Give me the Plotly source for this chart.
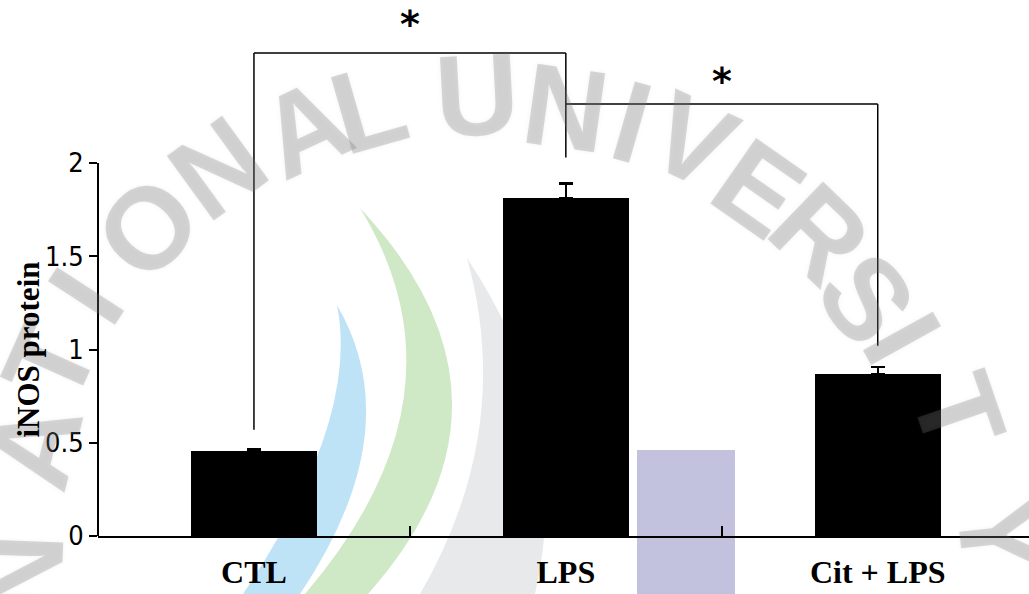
import plotly.graph_objects as go

# iNOS protein levels per treatment group
groups = ["CTL", "LPS", "Cit + LPS"]
means = [0.456, 1.81, 0.869]
sems = [0.012, 0.08, 0.036]

y_ticks = [0, 0.5, 1, 1.5, 2]
y_tick_text = ["0", "0.5", "1", "1.5", "2"]

# significance brackets: (left group, right group, bar height, left leg end, right leg end)
brackets = [
    (0, 1, 2.59, 0.57, 2.03),
    (1, 2, 2.316, 2.316, 1.02),
]
star_shift = [5, -1]

# figure geometry (pixels)
W, H = 1029, 594
ML, MB = 98, 58
PW, PH = W - ML, H - MB


def px(x, y):
    """pixel position -> paper coordinates of the plot area"""
    return (x - ML) / PW, (PH - y) / PH


# background seal: letters around an arc (pixel centre, rotation)
seal_letters = [
    ("N", 22, 575, -88), ("A", 35, 445, -76), ("T", 50, 362, -66), ("I", 86, 296, -57),
    ("O", 148, 228, -47), ("N", 218, 168, -36), ("A", 305, 128, -25), ("L", 368, 108, -16),
    ("U", 477, 95, -3), ("N", 566, 108, 8), ("I", 632, 122, 16), ("V", 692, 140, 25),
    ("E", 758, 188, 35), ("R", 820, 234, 44), ("S", 866, 298, 53), ("I", 902, 338, 61),
    ("T", 958, 412, 71), ("Y", 1000, 535, 84),
]

# background seal: crescent bands (tip, outer control, outer end, inner start, inner control, colour)
seal_bands = [
    ((337, 305), (410, 430), (300, 594), (243, 594), (360, 420), "#bfe3f6"),
    ((360, 208), (540, 400), (368, 594), (305, 594), (475, 395), "#cfe9c7"),
    ((467, 258), (575, 420), (535, 594), (420, 594), (515, 430), "#e8e9eb"),
]
seal_block = ((637, 450), (735, 594), "#c2c2df")

xpos = list(range(len(groups)))

fig = go.Figure()
fig.add_trace(go.Bar(
    x=xpos, y=means, width=0.405,
    marker=dict(color="black", line=dict(width=0)),
    error_y=dict(type="data", array=sems, arrayminus=[0] * len(sems),
                 color="black", thickness=2.2, width=7),
    showlegend=False,
))

shapes = []
for tip, oc, oe, ist, ic, col in seal_bands:
    pts = [px(*p) for p in (tip, oc, oe, ist, ic)]
    path = "M {:.4f},{:.4f} Q {:.4f},{:.4f} {:.4f},{:.4f} L {:.4f},{:.4f} Q {:.4f},{:.4f} {:.4f},{:.4f} Z".format(
        pts[0][0], pts[0][1], pts[1][0], pts[1][1], pts[2][0], pts[2][1],
        pts[3][0], pts[3][1], pts[4][0], pts[4][1], pts[0][0], pts[0][1])
    shapes.append(dict(type="path", xref="paper", yref="paper", path=path,
                       fillcolor=col, line=dict(width=0), layer="below"))
(bx0, by0), (bx1, by1), bcol = seal_block
p0, p1 = px(bx0, by0), px(bx1, by1)
shapes.append(dict(type="rect", xref="paper", yref="paper", x0=p0[0], y0=p0[1], x1=p1[0], y1=p1[1],
                   fillcolor=bcol, line=dict(width=0), layer="below"))

# y axis line from 0 to 2
shapes.append(dict(type="line", xref="paper", yref="y", x0=0, x1=0, y0=0, y1=2,
                   line=dict(color="black", width=2)))
for (a, b, h, la, lb) in brackets:
    shapes.append(dict(type="line", xref="x", yref="y", x0=a, x1=b, y0=h, y1=h,
                       line=dict(color="black", width=1.5)))
    shapes.append(dict(type="line", xref="x", yref="y", x0=a, x1=a, y0=la, y1=h,
                       line=dict(color="black", width=1.5)))
    shapes.append(dict(type="line", xref="x", yref="y", x0=b, x1=b, y0=lb, y1=h,
                       line=dict(color="black", width=1.5)))

annotations = []
for ch, lx, ly, ang in seal_letters:
    ax, ay = px(lx, ly)
    annotations.append(dict(x=ax, y=ay, xref="paper", yref="paper", text=ch, showarrow=False,
                            xanchor="center", yanchor="middle", textangle=ang,
                            font=dict(family="Liberation Sans", size=116, weight="bold",
                                      color="rgba(120,120,120,0.27)",
                                      shadow="0px 0px 4px rgba(120,120,120,0.35)")))

for (a, b, h, la, lb), sh in zip(brackets, star_shift):
    annotations.append(dict(x=(a + b) / 2, y=h, xref="x", yref="y", text="*",
                            showarrow=False, yanchor="bottom", yshift=sh,
                            font=dict(family="DejaVu Sans", size=38, color="black", weight="bold")))

annotations.append(dict(x=px(28, 0)[0], y=1, xref="paper", yref="y", text="iNOS protein",
                        showarrow=False, textangle=-90, xanchor="center", yanchor="middle",
                        font=dict(family="Liberation Serif", size=31, color="black", weight="bold")))

fig.update_layout(
    width=W, height=H,
    margin=dict(l=ML, r=0, t=0, b=MB),
    paper_bgcolor="white", plot_bgcolor="rgba(0,0,0,0)",
    bargap=0,
    shapes=shapes, annotations=annotations,
    xaxis=dict(range=[-0.5, 2.485], tickvals=xpos, ticktext=groups, ticks="",
               automargin=False,
               showline=True, linecolor="black", linewidth=2, showgrid=False, zeroline=False,
               tickfont=dict(family="Liberation Serif", size=32, color="black", weight="bold"),
               ticklabelstandoff=7,
               minor=dict(tickvals=[0.5, 1.5], ticks="inside", ticklen=10, tickwidth=1.5,
                          tickcolor="black", showgrid=False)),
    yaxis=dict(range=[0, PH / 186.5], tickvals=y_ticks, ticktext=y_tick_text,
               automargin=False,
               ticks="outside", ticklen=8, tickwidth=2, tickcolor="black",
               showline=False, showgrid=False, zeroline=False,
               tickfont=dict(family="Liberation Sans Narrow, DejaVu Sans Condensed, Liberation Sans",
                             size=27, color="black")),
)

fig.write_html("out.html")
